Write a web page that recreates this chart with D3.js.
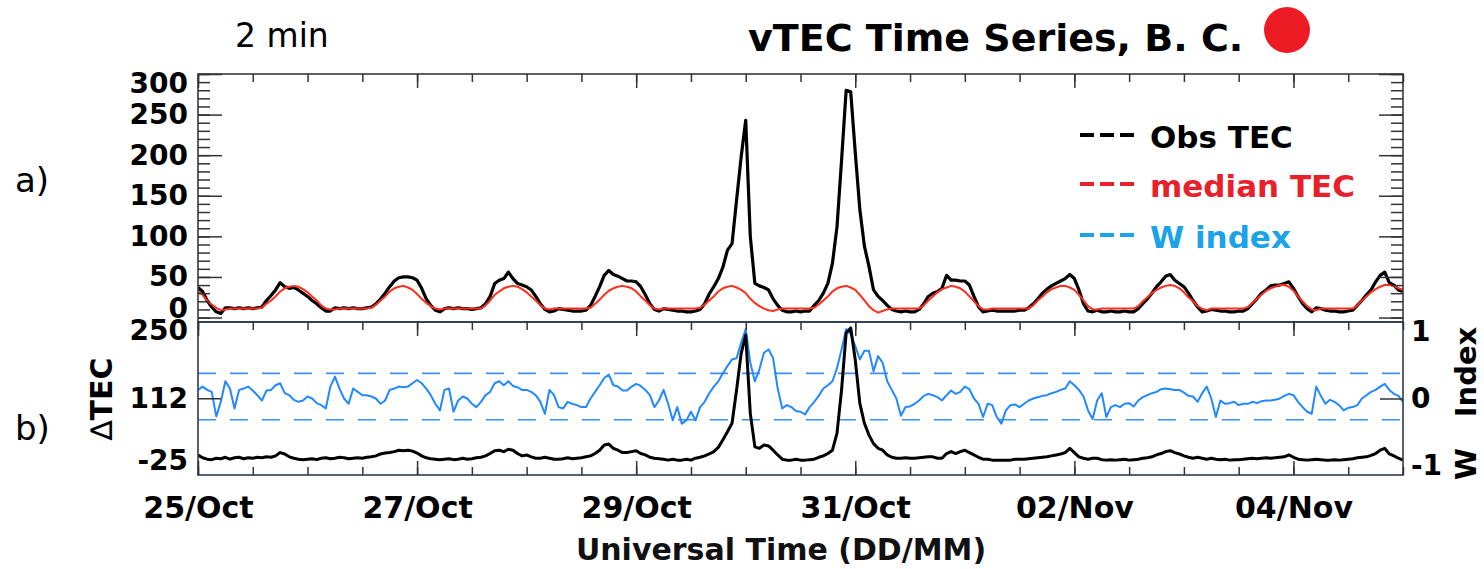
<!DOCTYPE html>
<html><head><meta charset="utf-8">
<script src="https://cdn.jsdelivr.net/npm/d3@7"></script>
<style>body{margin:0;background:#fff}svg{display:block}</style>
</head><body>
<svg id="c" width="1484" height="569"></svg>
<script>
// ---------- DATA (hourly, from 25 Oct 00 UT to 05 Nov 00 UT) ----------
const startDate = Date.UTC(2003, 9, 25);
const endDate = Date.UTC(2003, 10, 5);

const obsTEC = [
 37,32,21,13,7,5,12,12,11,12,11,12,11,12,13,21,27,34,43,38,36,37,34,30,
 26,21,17,12,8,8,12,11,12,11,12,11,11,12,13,17,23,30,38,45,49,50,50,49,
 46,36,23,15,9,7,11,12,11,12,11,11,10,11,12,17,26,42,46,48,56,48,42,40,
 38,34,26,17,10,7,8,11,10,9,8,8,8,9,15,26,38,52,58,53,51,48,45,45,
 44,38,28,17,10,8,11,10,9,8,8,7,7,8,10,17,29,38,48,62,83,91,145,198,
 243,100,42,39,37,34,23,15,9,7,7,8,7,8,8,15,21,30,42,67,112,194,280,278,
 203,133,88,63,34,26,21,15,10,8,7,8,7,7,10,17,26,30,32,36,52,46,46,45,
 45,40,26,13,7,8,9,8,8,8,8,8,9,9,12,17,23,30,35,39,42,45,48,53,
 48,34,17,8,7,9,7,7,8,7,7,8,7,7,11,17,23,30,38,44,51,53,46,42,
 38,30,21,13,7,8,10,9,8,8,7,7,8,8,11,17,23,30,34,39,40,40,42,44,
 36,26,17,11,7,12,11,9,8,8,7,7,8,9,15,21,28,34,44,52,56,43,40,34,
 32];

const medianTEC = [
 32,28,21,16,12,9,10,11,11,11,11,11,11,11,12,17,21,26,32,36,38,39,38,35,
 31,26,21,15,11,10,10,11,11,11,11,11,11,11,12,16,21,26,32,36,38,39,37,34,
 29,23,18,14,11,10,11,11,11,11,11,11,11,11,11,15,21,28,32,36,38,39,38,35,
 31,26,21,15,11,10,11,11,11,11,11,11,11,11,12,17,22,28,33,36,38,39,38,36,
 32,26,21,15,11,10,11,11,11,11,11,11,11,11,12,16,21,26,32,36,38,39,37,34,
 30,23,18,14,11,9,8,10,11,11,11,11,11,11,11,12,16,21,26,32,36,38,39,37,
 34,28,21,14,9,6,8,10,11,11,11,11,11,11,11,15,21,26,31,35,37,39,38,36,
 32,26,20,14,10,10,11,11,11,11,11,11,11,11,11,15,21,26,31,35,37,39,39,37,
 34,28,21,14,10,10,11,11,11,11,11,11,11,11,14,20,25,30,34,37,39,40,39,36,
 31,25,20,14,11,9,11,11,11,11,11,11,11,11,13,18,23,28,33,36,38,40,40,38,
 33,26,20,14,10,9,11,11,11,11,11,11,11,11,15,21,26,31,35,38,40,40,39,36,
 34];

const deltaTEC = [
 -8,-14,-17,-18,-15,-16,-13,-17,-14,-13,-16,-14,-15,-13,-14,-12,-13,-10,-3,-6,-12,-15,-17,-18,
 -17,-16,-18,-15,-14,-16,-15,-13,-14,-16,-15,-14,-15,-13,-12,-10,-6,-4,-3,-1,2,1,2,0,
 -4,-10,-14,-16,-17,-18,-17,-16,-18,-17,-15,-17,-16,-14,-13,-10,-5,1,2,-1,4,2,-5,-10,
 -8,-12,-15,-15,-13,-15,-17,-17,-16,-14,-16,-15,-14,-12,-10,-5,2,13,15,6,2,-3,-3,-1,
 1,-5,-8,-13,-15,-16,-17,-19,-17,-19,-19,-17,-19,-15,-13,-10,-6,-1,8,24,41,59,130,207,
 246,80,9,6,13,11,2,-8,-17,-19,-19,-17,-19,-19,-18,-17,-13,-10,-5,2,38,130,250,261,
 193,101,59,34,16,6,2,-8,-13,-15,-15,-14,-15,-15,-14,-13,-12,-12,-15,-15,-5,-1,-5,-1,
 2,-3,-8,-13,-17,-17,-19,-19,-19,-19,-19,-17,-17,-17,-16,-15,-14,-13,-12,-10,-8,-6,-3,6,
 -3,-12,-15,-17,-15,-15,-18,-19,-18,-19,-18,-17,-19,-18,-17,-15,-14,-12,-8,-5,-1,1,-3,-6,
 -10,-13,-15,-13,-15,-17,-15,-17,-18,-17,-19,-18,-18,-17,-16,-15,-16,-15,-14,-15,-14,-13,-12,-8,
 -13,-17,-18,-19,-18,-17,-18,-19,-19,-18,-19,-18,-17,-16,-14,-13,-12,-9,-5,2,6,-6,-10,-15,
 -19];

const wIndex = [
 0.13,0.18,0.13,0.10,-0.27,-0.05,0.26,0.15,-0.15,0.13,0.15,0.18,0.12,0.05,-0.03,0.12,0.13,0.20,0.23,0.08,0.05,-0.02,-0.05,-0.03,
 0.03,0.0,-0.07,-0.10,-0.15,0.18,0.33,0.15,0.0,-0.08,0.15,0.10,0.05,0.05,0.03,0.0,-0.08,-0.03,0.13,0.15,0.18,0.17,0.18,0.23,
 0.28,0.23,0.15,0.05,-0.08,-0.18,0.13,0.15,-0.20,-0.03,0.03,0.0,-0.08,-0.13,-0.05,0.05,0.10,0.23,0.26,0.20,0.26,0.19,0.17,0.13,
 0.13,0.10,0.05,-0.05,-0.23,0.13,0.05,-0.13,-0.15,-0.05,-0.08,-0.10,-0.13,-0.13,0.0,0.10,0.20,0.31,0.36,0.20,0.18,0.12,0.12,0.18,
 0.22,0.19,0.13,0.05,-0.13,-0.03,0.13,-0.08,-0.33,-0.13,-0.38,-0.33,-0.20,-0.33,-0.13,-0.05,0.08,0.18,0.26,0.38,0.49,0.59,0.61,0.84,
 1.05,0.54,0.26,0.44,0.69,0.74,0.61,0.15,-0.15,-0.10,-0.13,-0.19,-0.20,-0.24,-0.13,-0.05,0.04,0.15,0.20,0.26,0.46,0.74,1.05,0.97,
 0.79,0.59,0.72,0.72,0.41,0.64,0.54,0.26,0.13,0.0,-0.26,-0.13,-0.12,-0.08,-0.03,0.04,0.07,0.05,0.02,-0.03,0.05,0.12,0.07,0.10,
 0.18,0.14,0.0,-0.08,-0.28,-0.08,-0.10,-0.28,-0.38,-0.18,-0.10,-0.09,-0.13,-0.08,-0.03,0.0,0.02,0.04,0.05,0.08,0.10,0.13,0.15,0.26,
 0.20,0.13,0.03,-0.18,-0.31,-0.03,0.08,-0.28,-0.13,-0.10,-0.13,-0.08,-0.07,-0.12,-0.03,0.02,0.05,0.08,0.10,0.14,0.15,0.14,0.13,0.13,
 0.09,0.04,0.03,-0.05,0.08,0.18,0.0,-0.28,-0.03,-0.08,-0.07,-0.05,-0.10,-0.08,-0.08,-0.05,-0.07,-0.04,-0.03,-0.03,-0.02,0.0,0.04,0.07,
 0.05,-0.05,-0.13,-0.20,-0.23,0.18,0.04,-0.08,-0.02,-0.05,-0.10,-0.18,-0.14,-0.13,-0.10,0.0,0.05,0.10,0.13,0.18,0.22,0.13,0.07,0.04,
 -0.05];

const wThresholds = [0.38, -0.32];
const tecTicks = [0, 50, 100, 150, 200, 250, 300];
const tecMinorTicks = [0,10,20,30,40,50,60,70,80,90,100,110,120,130,140,150,160,170,180,190,200,210,220,230,240,250,260,270,280,290,300];
const deltaTicks = [250, 112, -25];
const wTicks = [1, 0, -1];
const dateTicks = [Date.UTC(2003,9,25), Date.UTC(2003,9,27), Date.UTC(2003,9,29), Date.UTC(2003,9,31), Date.UTC(2003,10,2), Date.UTC(2003,10,4)];
const legendItems = [
  {label: "Obs TEC", line: "#000000", text: "#000000"},
  {label: "median TEC", line: "#e8202a", text: "#e8202a"},
  {label: "W index", line: "#1aa3e8", text: "#1aa3e8"}
];

// ---------- LAYOUT ----------
const L = 198, R = 1403, T = 74, M = 322, B = 475;
const FONT = "'DejaVu Sans', sans-serif";
const svg = d3.select("#c");

const times = obsTEC.map((_, i) => new Date(startDate + i * 3600e3));
const x = d3.scaleUtc().domain([new Date(startDate), new Date(endDate)]).range([L, R]);
const yA = d3.scaleLinear().domain([-5.5, 300]).range([M, T]);
const yD = d3.scaleLinear().domain([-50.5, 273.5]).range([B, M]);
const yW = d3.scaleLinear().domain([-1.155, 1.155]).range([B, M]);

const defs = svg.append("defs");
defs.append("clipPath").attr("id", "clipA").append("rect").attr("x", L).attr("y", T).attr("width", R - L).attr("height", M - T);
defs.append("clipPath").attr("id", "clipB").append("rect").attr("x", L).attr("y", M).attr("width", R - L).attr("height", B - M);

// ---------- PANEL A lines ----------
const gA = svg.append("g").attr("clip-path", "url(#clipA)");
gA.append("path").datum(obsTEC)
  .attr("d", d3.line().x((d, i) => x(times[i])).y(d => yA(d)))
  .attr("fill", "none").attr("stroke", "#000").attr("stroke-width", 3.2).attr("stroke-linejoin", "round");
gA.append("path").datum(medianTEC)
  .attr("d", d3.line().x((d, i) => x(times[i])).y(d => yA(d)))
  .attr("fill", "none").attr("stroke", "#ff2d1a").attr("stroke-width", 2).attr("stroke-linejoin", "round");

// ---------- PANEL B lines ----------
const gB = svg.append("g").attr("clip-path", "url(#clipB)");
gB.selectAll("line.thr").data(wThresholds).join("line").attr("class", "thr")
  .attr("x1", L).attr("x2", R).attr("y1", d => yW(d)).attr("y2", d => yW(d))
  .attr("stroke", "#3d8ef5").attr("stroke-width", 1.6).attr("stroke-dasharray", "18,14");
gB.append("path").datum(wIndex)
  .attr("d", d3.line().x((d, i) => x(times[i])).y(d => yW(d)))
  .attr("fill", "none").attr("stroke", "#2288ff").attr("stroke-width", 2).attr("stroke-linejoin", "round");
gB.append("path").datum(deltaTEC)
  .attr("d", d3.line().x((d, i) => x(times[i])).y(d => yD(d)))
  .attr("fill", "none").attr("stroke", "#000").attr("stroke-width", 3).attr("stroke-linejoin", "round");

// ---------- FRAMES ----------
svg.append("rect").attr("x", L).attr("y", T).attr("width", R - L).attr("height", M - T)
  .attr("fill", "none").attr("stroke", "#3a3a3a").attr("stroke-width", 1.6);
svg.append("rect").attr("x", L).attr("y", M).attr("width", R - L).attr("height", B - M)
  .attr("fill", "none").attr("stroke", "#2b3a55").attr("stroke-width", 1.6);

// ---------- AXES ----------
function styleAxis(g, fs) {
  g.select(".domain").remove();
  g.selectAll(".tick line").attr("stroke", "#333").attr("stroke-width", 1.5);
  g.selectAll("text").attr("font-family", FONT).attr("font-weight", "bold")
    .attr("font-size", fs || 28).attr("fill", "#000");
}
const halfDays = d3.utcHour.every(12).range(new Date(startDate), new Date(endDate + 1));
const majors = dateTicks.map(d => new Date(d));

[[T, d3.axisTop], [M, d3.axisTop], [B, d3.axisBottom]].forEach(([yy, ax]) => {
  svg.append("g").attr("transform", `translate(0,${yy})`)
    .call(ax(x).tickValues(halfDays).tickSize(-8).tickFormat("")).call(styleAxis);
  svg.append("g").attr("transform", `translate(0,${yy})`)
    .call(ax(x).tickValues(majors).tickSize(-14).tickFormat("")).call(styleAxis);
});
// date labels
svg.append("g").attr("transform", `translate(0,${B})`)
  .call(d3.axisBottom(x).tickValues(majors).tickSize(0).tickPadding(22).tickFormat(d3.utcFormat("%d/%b")))
  .call(g => styleAxis(g, 30));

// panel A y axes
svg.append("g").attr("transform", `translate(${L},0)`)
  .call(d3.axisLeft(yA).tickValues(tecMinorTicks).tickSize(-12).tickFormat("")).call(styleAxis);
svg.append("g").attr("transform", `translate(${L},0)`)
  .call(d3.axisLeft(yA).tickValues(tecTicks).tickSize(-24).tickPadding(10).tickFormat(d => String(d)))
  .call(g => styleAxis(g, 28))
  .call(g => {
    g.selectAll("text").filter(d => d === 300).attr("y", 10);
    g.selectAll("text").filter(d => d === 0).attr("y", -9);
  });
svg.append("g").attr("transform", `translate(${R},0)`)
  .call(d3.axisRight(yA).tickValues(tecMinorTicks).tickSize(-12).tickFormat("")).call(styleAxis);
svg.append("g").attr("transform", `translate(${R},0)`)
  .call(d3.axisRight(yA).tickValues(tecTicks).tickSize(-24).tickFormat("")).call(styleAxis);

// panel B axes
svg.append("g").attr("transform", `translate(${L},0)`)
  .call(d3.axisLeft(yD).tickValues(deltaTicks).tickSize(0).tickPadding(10).tickFormat(d => String(d)))
  .call(g => styleAxis(g, 28))
  .call(g => { g.selectAll("text").filter(d => d === 250).attr("y", -3); g.selectAll("text").filter(d => d === -25).attr("y", -2); });
svg.append("g").attr("transform", `translate(${L},0)`)
  .call(d3.axisLeft(yD).tickValues([112]).tickSize(-23).tickFormat("")).call(styleAxis);
svg.append("g").attr("transform", `translate(${R},0)`)
  .call(d3.axisRight(yW).tickValues(wTicks).tickSize(0).tickPadding(8).tickFormat(d => String(d)))
  .call(g => styleAxis(g, 28))
  .call(g => { g.selectAll("text").filter(d => d === 1).attr("y", -1); g.selectAll("text").filter(d => d === -1).attr("y", 1); });
svg.append("g").attr("transform", `translate(${R},0)`)
  .call(d3.axisRight(yW).tickValues([0]).tickSize(-23).tickFormat("")).call(styleAxis);

// ---------- TEXT ----------
svg.append("text").attr("x", 235).attr("y", 47).attr("font-family", FONT).attr("font-size", 33)
  .attr("fill", "#000").text("2 min");
svg.append("text").attr("x", 748).attr("y", 51).attr("font-family", FONT).attr("font-weight", "bold")
  .attr("font-size", 38).attr("fill", "#000").text("vTEC Time Series, B. C.");
svg.append("circle").attr("cx", 1287).attr("cy", 30).attr("r", 23).attr("fill", "#ed1c24");

svg.append("text").attr("x", 15).attr("y", 192).attr("font-family", FONT).attr("font-size", 34).text("a)");
svg.append("text").attr("x", 15).attr("y", 440).attr("font-family", FONT).attr("font-size", 34).text("b)");

const dT = svg.append("text").attr("transform", "translate(112,399) rotate(-90)")
  .attr("text-anchor", "middle").attr("font-family", FONT).attr("font-size", 30).attr("fill", "#000");
dT.append("tspan").attr("font-weight", "normal").text("\u2206");
dT.append("tspan").attr("font-weight", "bold").text("TEC");

svg.append("text").attr("transform", "translate(1476,464) rotate(-90)").attr("text-anchor", "middle")
  .attr("font-family", FONT).attr("font-weight", "bold").attr("font-size", 29).text("W");
svg.append("text").attr("transform", "translate(1476,372) rotate(-90)").attr("text-anchor", "middle")
  .attr("font-family", FONT).attr("font-weight", "bold").attr("font-size", 29).text("Index");

svg.append("text").attr("x", 781).attr("y", 560).attr("text-anchor", "middle")
  .attr("font-family", FONT).attr("font-weight", "bold").attr("font-size", 30).attr("fill", "#111")
  .text("Universal Time (DD/MM)");

// ---------- LEGEND ----------
const legY = [135, 184, 235];
const lg = svg.append("g");
legendItems.forEach((it, i) => {
  lg.append("line").attr("x1", 1080).attr("x2", 1135).attr("y1", legY[i]).attr("y2", legY[i])
    .attr("stroke", it.line).attr("stroke-width", 4).attr("stroke-dasharray", "14,6");
  lg.append("text").attr("x", 1150).attr("y", legY[i] + 13).attr("font-family", FONT)
    .attr("font-weight", "bold").attr("font-size", 31).attr("fill", it.text).text(it.label);
});
</script>
</body></html>
